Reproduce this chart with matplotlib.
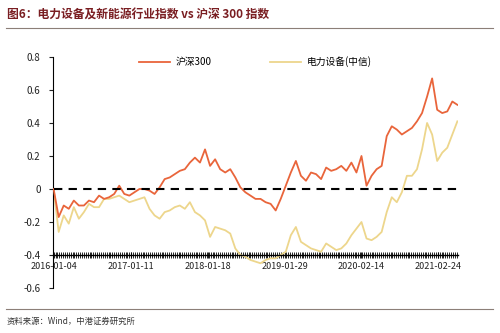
"""电力设备及新能源行业指数 vs 沪深300 指数."""
import matplotlib
matplotlib.use('Agg')
import matplotlib.pyplot as plt
from matplotlib.ticker import MultipleLocator
import numpy as np

plt.rcParams['font.family'] = ['Noto Sans CJK SC', 'DejaVu Sans']

# cumulative return, one reading every 16 trading days from 2016-01-04
HS300 = [0.00, -0.17, -0.10, -0.12, -0.07, -0.10, -0.10, -0.07, -0.08, -0.04,
         -0.06, -0.05, -0.03, 0.02, -0.03, -0.04, -0.02, 0.00, 0.00, -0.01,
         -0.03, 0.01, 0.06, 0.07, 0.09, 0.11, 0.12, 0.16, 0.19, 0.16,
         0.24, 0.14, 0.18, 0.12, 0.10, 0.12, 0.07, 0.01, -0.02, -0.04,
         -0.06, -0.06, -0.08, -0.09, -0.13, -0.06, 0.02, 0.10, 0.17, 0.08,
         0.05, 0.10, 0.09, 0.06, 0.13, 0.11, 0.12, 0.14, 0.11, 0.16,
         0.10, 0.20, 0.02, 0.08, 0.12, 0.14, 0.32, 0.38, 0.36, 0.33,
         0.35, 0.37, 0.41, 0.46, 0.56, 0.67, 0.48, 0.46, 0.47, 0.53,
         0.51]
POWER_EQUIP = [0.00, -0.26, -0.16, -0.21, -0.11, -0.18, -0.14, -0.09, -0.11, -0.11,
               -0.06, -0.06, -0.05, -0.04, -0.06, -0.08, -0.07, -0.06, -0.05, -0.12,
               -0.16, -0.18, -0.14, -0.13, -0.11, -0.10, -0.12, -0.08, -0.14, -0.16,
               -0.19, -0.29, -0.23, -0.24, -0.25, -0.27, -0.36, -0.40, -0.41, -0.43,
               -0.44, -0.45, -0.43, -0.42, -0.42, -0.40, -0.38, -0.28, -0.23, -0.32,
               -0.34, -0.36, -0.37, -0.38, -0.33, -0.35, -0.37, -0.36, -0.33, -0.28,
               -0.24, -0.20, -0.30, -0.31, -0.29, -0.26, -0.14, -0.05, -0.08, -0.02,
               0.08, 0.08, 0.12, 0.24, 0.40, 0.33, 0.17, 0.22, 0.25, 0.33,
               0.41]
STEP_DAYS = 16
TICK_DAYS = 244
TICK_LABELS = ['2016-01-04', '2017-01-11', '2018-01-18', '2019-01-29',
               '2020-02-14', '2021-02-24']
Y_TICKS = [-0.6, -0.4, -0.2, 0, 0.2, 0.4, 0.6, 0.8]
Y_LABELS = ['-0.6', '-0.4', '-0.2', '0', '0.2', '0.4', '0.6', '0.8']

x = np.arange(len(HS300)) * STEP_DAYS

fig = plt.figure(figsize=(5, 3.33), dpi=100)
ax = fig.add_axes([0.106, 0.135, 0.81, 0.694])

ax.plot(x, HS300, color='#E9653B', lw=1.3, label='沪深300', zorder=3)
ax.plot(x, POWER_EQUIP, color='#EDD68C', lw=1.3, label='电力设备(中信)', zorder=2)
ax.plot([x[0], x[-1]], [0, 0], color='black', lw=1.5, ls=(0, (4, 3)), zorder=4)

ax.set_xlim(-2, x[-1] + 2)
ax.set_ylim(-0.6, 0.8)
ax.set_yticks(Y_TICKS)
ax.set_yticklabels(Y_LABELS)
ax.set_xticks(np.arange(len(TICK_LABELS)) * TICK_DAYS)
ax.set_xticklabels(TICK_LABELS)
ax.xaxis.set_minor_locator(MultipleLocator(6))

for s in ['top', 'right']:
    ax.spines[s].set_visible(False)
ax.spines['bottom'].set_position(('data', -0.4))
ax.spines['bottom'].set_linewidth(1.0)
ax.spines['left'].set_linewidth(0.8)
ax.tick_params(axis='x', which='major', direction='inout', length=4, width=0.8,
               labelsize=6.5, colors='#222222', pad=3)
ax.tick_params(axis='x', which='minor', direction='inout', length=4, width=0.6)
ax.tick_params(axis='y', direction='out', length=3, width=0.8, labelsize=7,
               colors='#222222', pad=6)

ax.legend(loc='upper center', bbox_to_anchor=(0.5, 1.04), ncol=2, frameon=False,
          fontsize=7, handlelength=3.2, columnspacing=6, handletextpad=0.6)

# title and source
fig.text(0.014, 0.955, '图6：电力设备及新能源行业指数 vs 沪深 300 指数', fontsize=8.5,
         fontweight='bold', color='#7A1E22', va='center', ha='left')
fig.add_artist(plt.Line2D([0.012, 0.985], [0.915, 0.915], color='#8C7F78', lw=0.8))
fig.add_artist(plt.Line2D([0.012, 0.985], [0.072, 0.072], color='#8C7F78', lw=0.8))
fig.text(0.014, 0.035, '资料来源：Wind，中港证券研究所', fontsize=6, style='italic',
         color='#333333', va='center', ha='left')

fig.savefig('out.png', dpi=100)
